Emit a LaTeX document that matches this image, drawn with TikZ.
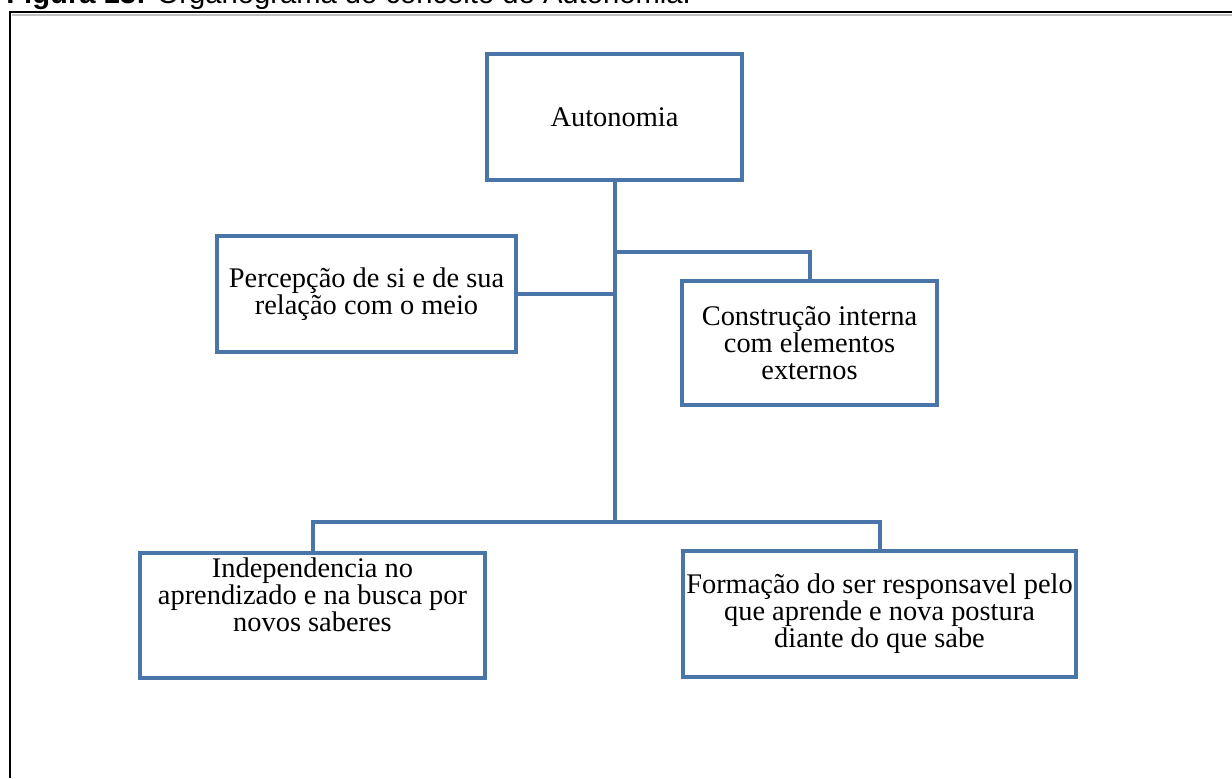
\documentclass[tikz,border=0pt]{standalone}
\usepackage{fontspec}
\setmainfont{Liberation Serif}
\newfontfamily\capfont{Liberation Sans}
\usepackage{xcolor}
\usepackage{tikz}
\usetikzlibrary{positioning,calc}
\definecolor{orgblue}{HTML}{4A75A9}

\begin{document}
\begin{tikzpicture}[x=0.5pt,y=-0.5pt,
  orgbox/.style={draw=orgblue,line width=2pt,fill=white,align=center,inner sep=0pt,
    font=\fontsize{14.2}{13.5}\selectfont},
  orgline/.style={draw=orgblue,line width=2pt}]
\useasboundingbox (0,0) rectangle (1232,778);
% moldura e legenda
\node[anchor=base west,inner sep=0pt,font=\capfont\fontsize{14.6}{16}\selectfont] (legenda) at (6,3.5)
  {\textbf{Figura 13:} Organograma do conceito de Autonomia.};
\draw[line width=1pt] (10,778) -- (10,11.5) -- (1232,11.5);
\draw[gray!50,line width=1pt] (11.5,14.5) -- (1232,14.5);
% caixas
\node[orgbox,minimum width=127.5pt,minimum height=63pt] (auto) at (614.5,117) {Autonomia};
\node[orgbox,minimum width=149.5pt,minimum height=58pt] (percep) at (366.5,294)
  {Percepção de si e de sua\\relação com o meio};
\node[orgbox,minimum width=127.5pt,minimum height=62pt] (constr) at (809.5,343)
  {Construção interna\\com elementos\\externos};
\node[orgbox,minimum width=172.5pt,minimum height=62.5pt] (indep) at (312.5,615.5)
  {Independencia no\\aprendizado e na busca por\\novos saberes\\[7pt]~};
\node[orgbox,minimum width=196.5pt,minimum height=63pt] (form) at (879.5,614)
  {Formação do ser responsavel pelo\\que aprende e nova postura\\diante do que sabe};
% ligacoes
\coordinate (cjoin) at (614.5,252);
\coordinate (hub) at (614.5,522);
\draw[orgline] (auto.south) -- (hub);
\draw[orgline] (percep.east) -- (percep.east -| auto.south);
\draw[orgline] (cjoin) -| (constr.north);
\draw[orgline,line join=miter] (indep.north) |- (hub) -| (form.north);
\end{tikzpicture}
\end{document}
